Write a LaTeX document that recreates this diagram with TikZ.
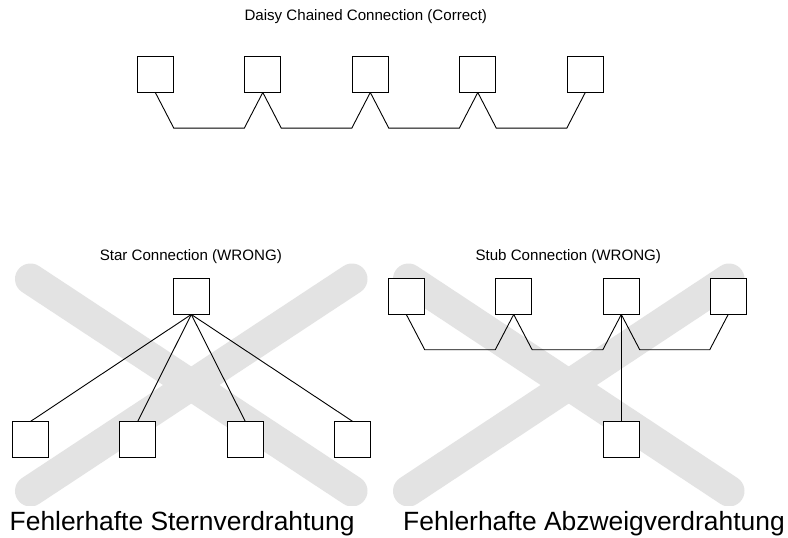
\documentclass[tikz,border=0pt]{standalone}
\usepackage{fontspec}
\setmainfont{Liberation Sans}
\usetikzlibrary{calc}
\definecolor{xgray}{HTML}{E3E3E3}
\begin{document}
\begin{tikzpicture}[x=1pt,y=-1pt,
  devbox/.style={draw=black,fill=white,line width=0.9pt,minimum width=36pt,minimum height=35.6pt,inner sep=0pt},
  wire/.style={draw=black,line width=0.9pt},
  crossbar/.style={draw=xgray,line width=31pt,line cap=round},
  titletext/.style={anchor=base,inner sep=0pt,font=\fontsize{15.1}{18}\selectfont},
  bigtext/.style={anchor=base west,inner sep=0pt,font=\fontsize{26.4}{30}\selectfont}]
\useasboundingbox (0,0) rectangle (788,538);
\fill[white] (0,0) rectangle (788,538);
% crossed-out marks
\begin{scope}
  \clip (0,0) rectangle (788,505);
  \draw[crossbar] (30.5,279) -- (352,491);
  \draw[crossbar] (352,279) -- (30.5,491);
  \draw[crossbar] (408.5,279) -- (729,491);
  \draw[crossbar] (729,279) -- (408.5,491);
\end{scope}
% titles
\node[titletext] (t1) at (365.8,20.7) {Daisy Chained Connection (Correct)};
\node[titletext] (t2) at (190.8,260) {Star Connection (WRONG)};
\node[titletext] (t3) at (568.3,260) {Stub Connection (WRONG)};
\node[bigtext] (t4) at (9.5,530) {Fehlerhafte Sternverdrahtung};
\node[bigtext] (t5) at (403,530) {Fehlerhafte Abzweigverdrahtung};
% daisy chain
\foreach \i/\x in {1/155.3,2/262.8,3/370.3,4/477.8,5/585.3}
  \node[devbox] (d\i) at (\x,74.2) {};
\foreach \a/\b in {1/2,2/3,3/4,4/5}
  \draw[wire] (d\a.south) -- ([yshift=-35.6pt]d\a.south east) -- ([yshift=-35.6pt]d\b.south west) -- (d\b.south);
% star
\node[devbox] (s0) at (191.3,296.2) {};
\foreach \i/\x in {1/30.5,2/137.7,3/245.3,4/352.7}
  \node[devbox] (s\i) at (\x,439.7) {};
\foreach \i in {1,2,3,4}
  \draw[wire] (s0.south) -- (s\i.north);
% stub
\foreach \i/\x in {1/406.3,2/513.7,3/621.3,4/728.2}
  \node[devbox] (b\i) at (\x,296.2) {};
\node[devbox] (b5) at (621.3,439.2) {};
\foreach \a/\b in {1/2,2/3,3/4}
  \draw[wire] (b\a.south) -- ([yshift=-35.3pt]b\a.south east) -- ([yshift=-35.3pt]b\b.south west) -- (b\b.south);
\draw[wire] (b3.south) -- (b5.north);
\end{tikzpicture}
\end{document}
